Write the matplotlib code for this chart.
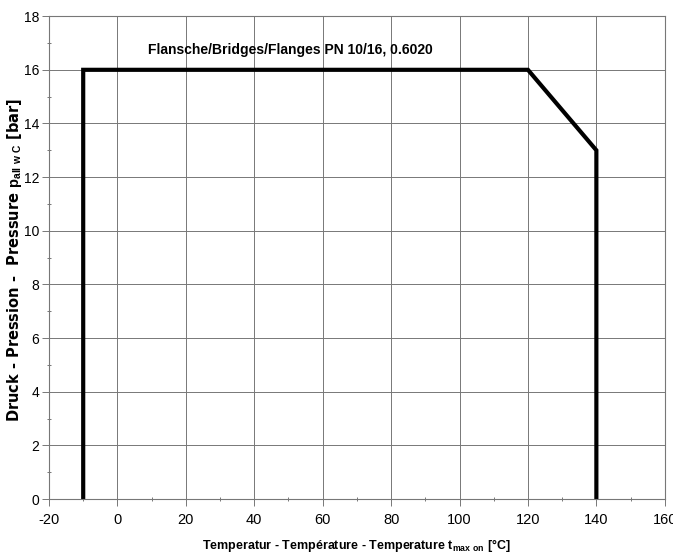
import numpy as np
import matplotlib
matplotlib.use("Agg")
import matplotlib.pyplot as plt
from matplotlib.ticker import MultipleLocator

# curve of allowed pressure vs temperature
temp = [-10, -10, 120, 140, 140]
pressure = [0, 16, 16, 13, 0]

x_ticks = np.arange(-20, 161, 20)
y_ticks = np.arange(0, 19, 2)

title = "Flansche/Bridges/Flanges PN 10/16, 0.6020"
xlabel = r"Temperatur - Température - Temperature $\mathbf{t_{max\ on}}$ [°C]"
ylabel = r"Druck - Pression -  Pressure $\mathbf{p_{all\ w\ C}}$ [bar]"

plt.rcParams["font.family"] = ["Liberation Sans", "DejaVu Sans"]
plt.rcParams["axes.unicode_minus"] = False
plt.rcParams["mathtext.fontset"] = "custom"
plt.rcParams["mathtext.bf"] = "Liberation Sans:bold"
plt.rcParams["mathtext.rm"] = "Liberation Sans"

fig = plt.figure(figsize=(6.73, 5.57), dpi=100)
ax = fig.add_axes([0.0728, 0.104, 0.915, 0.867])

ax.plot(temp, pressure, color="black", lw=3, solid_joinstyle="miter")

ax.set_xlim(-20, 160)
ax.set_ylim(0, 18)
ax.set_xticks(x_ticks)
ax.set_yticks(y_ticks)
ax.xaxis.set_minor_locator(MultipleLocator(10))
ax.yaxis.set_minor_locator(MultipleLocator(1))
ax.grid(True, which="major", color="#777777", lw=0.7)
ax.tick_params(which="major", length=5, width=0.7, color="#777777", labelsize=10.5, pad=5)
ax.tick_params(axis="y", which="major", pad=2, labelsize=10)
ax.tick_params(which="minor", length=3, width=0.7, color="#777777", direction="inout")
for s in ax.spines.values():
    s.set_color("#777777")
    s.set_linewidth(0.8)

ax.text(9, 16.72, title, fontsize=10, fontweight="bold", ha="left", va="center")
fig.text(0.53, 0.02, xlabel, fontsize=9, fontweight="bold", ha="center", va="center")
fig.text(0.021, 0.533, ylabel, fontsize=10.5, fontweight="bold", family="DejaVu Sans",
         rotation=90, ha="center", va="center")

fig.savefig("out.png", dpi=100)
